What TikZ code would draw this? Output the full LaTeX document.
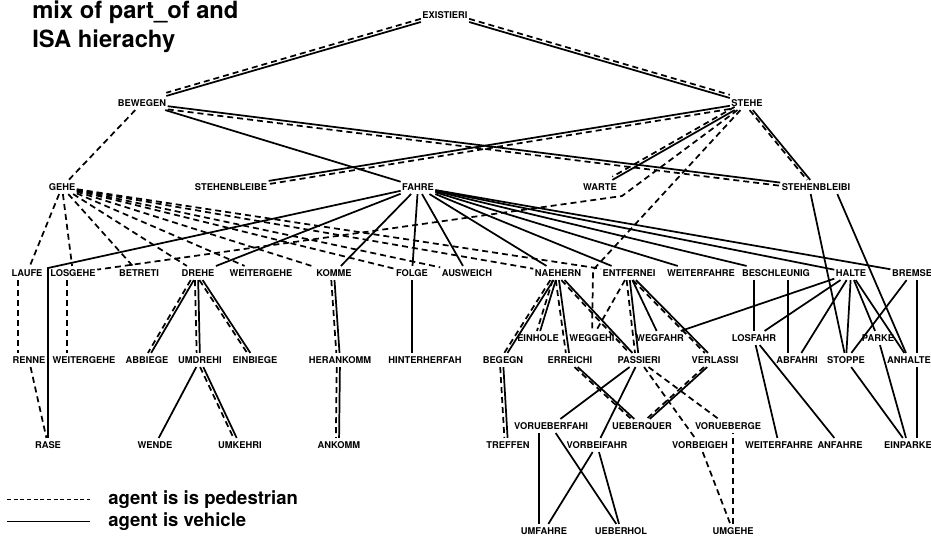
\documentclass[tikz,border=0pt]{standalone}
\usepackage{fontspec}
\setmainfont{TeX Gyre Heros}
\usetikzlibrary{calc}
\newcommand{\verbnode}[4]{\node[lbl] (#1) at (#2,#3) {#4};}
\newcommand{\both}[3][xshift=-2.4pt]{\draw[veh] (#2) -- (#3);\draw[ped,transform canvas={#1}] (#2) -- (#3);}

\begin{document}
\begin{tikzpicture}[x=0.75pt,y=-0.75pt,
  lbl/.style={font=\bfseries\fontsize{7}{8}\selectfont,inner xsep=1pt,inner ysep=2.6pt,text height=5pt,text depth=0pt},
  veh/.style={line width=1.3pt},
  ped/.style={line width=1.3pt,dash pattern=on 4.5pt off 3pt},
  key/.style={line width=0.75pt},
  keytext/.style={font=\bfseries\fontsize{13.9}{16}\selectfont,anchor=base west,inner sep=0pt},
  headline/.style={font=\bfseries\fontsize{17.8}{20}\selectfont,anchor=base west,inner sep=0pt}]
\useasboundingbox (0,0) rectangle (931,536);
% title
\node[headline] (title1) at (32,18) {mix of part\_of and};
\node[headline] (title2) at (32,47) {ISA hierachy};
% verbs, top down
\verbnode{exist}{445}{15}{EXISTIERI}
\verbnode{bewegen}{142}{103}{BEWEGEN}
\verbnode{stehe}{747}{103}{STEHE}
\verbnode{gehe}{62}{187}{GEHE}
\verbnode{stbleibeA}{231}{187}{STEHENBLEIBE}
\verbnode{fahre}{418}{187}{FAHRE}
\verbnode{warte}{600}{187}{WARTE}
\verbnode{stbleibeB}{816}{187}{STEHENBLEIBI}
\verbnode{laufe}{27}{273}{LAUFE}
\verbnode{losgehe}{73}{273}{LOSGEHE}
\verbnode{betrete}{139}{273}{BETRETI}
\verbnode{drehe}{198}{273}{DREHE}
\verbnode{weitergehe}{261}{273}{WEITERGEHE}
\verbnode{komme}{334}{273}{KOMME}
\verbnode{folge}{412}{273}{FOLGE}
\verbnode{ausweich}{467}{273}{AUSWEICH}
\verbnode{naehern}{558}{273}{NAEHERN}
\verbnode{entferne}{629}{273}{ENTFERNEI}
\verbnode{weiterfahre}{701}{273}{WEITERFAHRE}
\verbnode{beschleunig}{776}{273}{BESCHLEUNIG}
\verbnode{halte}{851}{273}{HALTE}
\verbnode{bremse}{912}{273}{BREMSE}
\verbnode{einhole}{538}{338}{EINHOLE}
\verbnode{weggehe}{592}{338}{WEGGEHI}
\verbnode{wegfahr}{660}{338}{WEGFAHR}
\verbnode{losfahr}{754}{338}{LOSFAHR}
\verbnode{parke}{878}{338}{PARKE}
\verbnode{renne}{29}{360}{RENNE}
\verbnode{weitergeheB}{84}{360}{WEITERGEHE}
\verbnode{abbiege}{147}{360}{ABBIEGE}
\verbnode{umdrehe}{200}{360}{UMDREHI}
\verbnode{einbiege}{255}{360}{EINBIEGE}
\verbnode{herankomm}{340}{360}{HERANKOMM}
\verbnode{hinterher}{425}{360}{HINTERHERFAH}
\verbnode{begegn}{503}{360}{BEGEGN}
\verbnode{erreiche}{570}{360}{ERREICHI}
\verbnode{passiere}{639}{360}{PASSIERI}
\verbnode{verlasse}{715}{360}{VERLASSI}
\verbnode{abfahre}{797}{360}{ABFAHRI}
\verbnode{stoppe}{846}{360}{STOPPE}
\verbnode{anhalte}{909}{360}{ANHALTE}
\verbnode{vorueberfahr}{551}{426}{VORUEBERFAHI}
\verbnode{ueberquer}{642}{426}{UEBERQUER}
\verbnode{vorueberge}{728}{426}{VORUEBERGE}
\verbnode{rase}{48}{445}{RASE}
\verbnode{wende}{155}{445}{WENDE}
\verbnode{umkehre}{240}{445}{UMKEHRI}
\verbnode{ankomm}{339}{445}{ANKOMM}
\verbnode{treffen}{508}{445}{TREFFEN}
\verbnode{vorbeifahr}{597}{445}{VORBEIFAHR}
\verbnode{vorbeigeh}{700}{445}{VORBEIGEH}
\verbnode{weiterfahreB}{779}{445}{WEITERFAHRE}
\verbnode{anfahre}{840}{445}{ANFAHRE}
\verbnode{einparke}{908}{445}{EINPARKE}
\verbnode{umfahre}{544}{531}{UMFAHRE}
\verbnode{ueberhol}{621}{531}{UEBERHOL}
\verbnode{umgehe}{733}{531}{UMGEHE}
% bends of long edges
\coordinate (bendL) at (622,196);
\coordinate (bendM) at (593,270);
\coordinate (bendR) at (48,268);
% upper part
\both[yshift=2.4pt]{exist}{bewegen}
\both[yshift=2.4pt]{exist}{stehe}
\draw[ped] (bewegen) -- (gehe);
\draw[veh] (bewegen) -- (fahre);
\both[yshift=-2.4pt]{bewegen}{stbleibeB}
\both[yshift=-2.4pt]{stehe}{stbleibeA}
\both[yshift=2.4pt]{stehe}{warte}
\both{stehe}{stbleibeB}
\draw[ped] (stehe) -- (bendL) -- (losgehe);
\draw[ped] (stehe) -- (bendM) -- (weggehe);
\foreach \t in {laufe,losgehe,betrete,drehe,weitergehe,komme,folge,ausweich,naehern,entferne}
  \draw[ped] (gehe) -- (\t);
\draw[veh] (fahre) -- (bendR) -- (bendR |- rase.north);
\foreach \t in {drehe,komme,folge,ausweich,naehern,entferne,weiterfahre,beschleunig,halte,bremse}
  \draw[veh] (fahre) -- (\t);
% left part
\draw[ped] ([xshift=-7pt]laufe.south) -- ([xshift=-7pt]laufe.south |- renne.north);
\draw[ped] (renne) -- (rase);
\draw[ped] ([xshift=-4.5pt]losgehe.south) -- ([xshift=-4.5pt]losgehe.south |- weitergeheB.north);
\both{drehe}{abbiege}
\both{drehe}{umdrehe}
\both{drehe}{einbiege}
\draw[veh] (umdrehe) -- (wende);
\both{umdrehe}{umkehre}
\both{komme}{herankomm}
\both{herankomm}{ankomm}
\draw[veh] (folge.south) -- (folge.south |- hinterher.north);
% middle part
\both{naehern}{begegn}
\both{naehern}{einhole}
\both{naehern}{erreiche}
\both{naehern}{passiere}
\draw[ped] (entferne) -- (weggehe);
\both{entferne}{passiere}
\draw[veh] (entferne) -- (wegfahr);
\both{entferne}{verlasse}
\both{begegn}{treffen}
\both{erreiche}{ueberquer}
\both{verlasse}{ueberquer}
\draw[veh] (passiere) -- (vorueberfahr);
\draw[veh] (passiere) -- (vorbeifahr);
\draw[ped] (passiere) -- (vorbeigeh);
\draw[ped] (passiere) -- (vorueberge);
\draw[veh] ([xshift=-3.75pt]umfahre.north) -- ([xshift=-3.75pt]umfahre.north |- vorueberfahr.south);
\draw[veh] (vorueberfahr) -- (ueberhol);
\draw[veh] (vorbeifahr) -- (umfahre);
\draw[veh] (vorbeifahr) -- (ueberhol);
\draw[ped] (vorbeigeh) -- (umgehe);
\draw[ped] (umgehe.north) -- (umgehe.north |- vorueberge.south);
% right part
\draw[veh] (losfahr.north) -- (losfahr.north |- beschleunig.south);
\draw[veh] ([xshift=-6.75pt]abfahre.north) -- ([xshift=-6.75pt]abfahre.north |- beschleunig.south);
\foreach \t in {wegfahr,losfahr,abfahre,stoppe,parke,anhalte}
  \draw[veh] (halte) -- (\t);
\draw[veh] (bremse) -- (stoppe);
\draw[veh] ([xshift=3.75pt]bremse.south) -- ([xshift=3.75pt]bremse.south |- anhalte.north);
\draw[veh] ([xshift=3.75pt]bremse.south |- anhalte.south) -- ([xshift=3.75pt]bremse.south |- einparke.north);
\draw[veh] ([xshift=-4pt]stbleibeB.south) -- (stoppe);
\draw[veh] ([xshift=16pt]stbleibeB.south) -- (anhalte);
\draw[veh] (losfahr) -- (weiterfahreB);
\draw[veh] (losfahr) -- (anfahre);
\draw[veh] (stoppe) -- (einparke);
\draw[veh] (parke) -- (einparke);
% legend
\coordinate (pedA) at (7,499);
\coordinate (pedB) at (90,499);
\coordinate (vehA) at (7,521);
\coordinate (vehB) at (90,521);
\draw[key,dash pattern=on 3pt off 2pt] (pedA) -- (pedB);
\draw[key] (vehA) -- (vehB);
\node[keytext] (pedtext) at (108,504) {agent is is pedestrian};
\node[keytext] (vehtext) at (108,526) {agent is vehicle};
\end{tikzpicture}
\end{document}
